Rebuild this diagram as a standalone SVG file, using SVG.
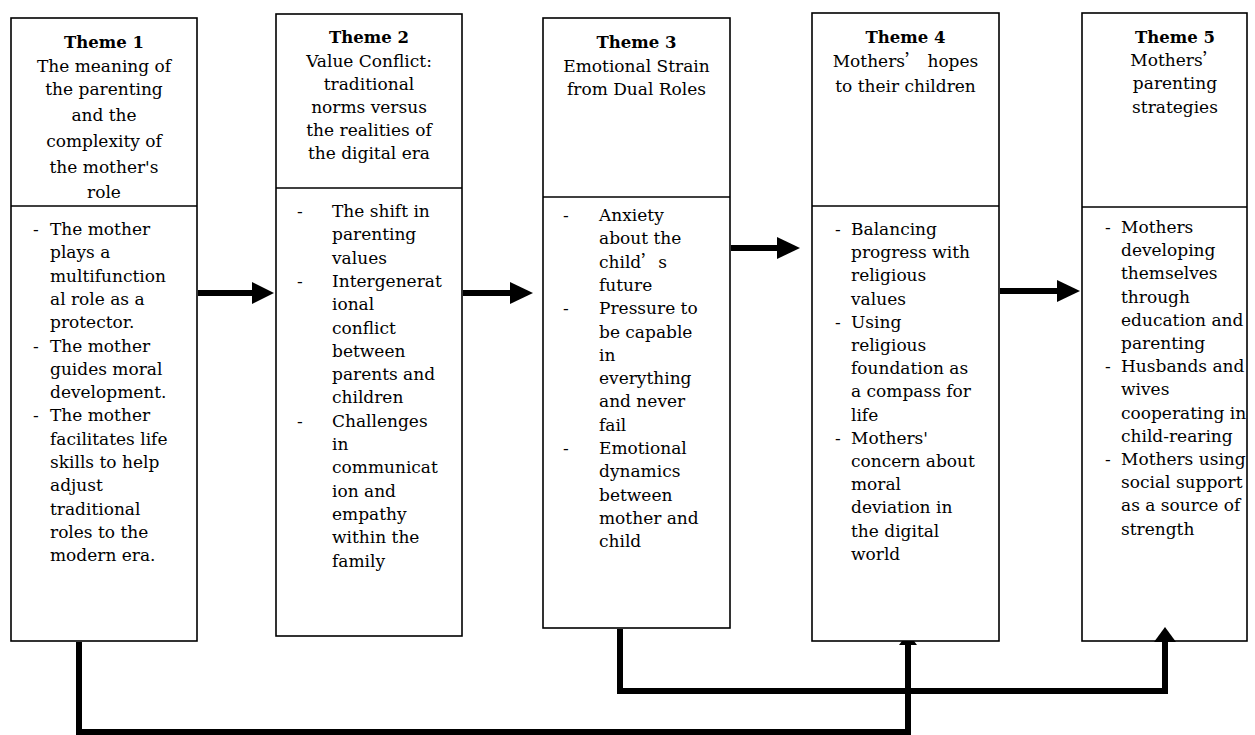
<svg xmlns="http://www.w3.org/2000/svg" width="1255" height="735" viewBox="0 0 1255 735">
<style>
.box{fill:#fff;stroke:#000;stroke-width:1.6}
.div{stroke:#000;stroke-width:1.6}
.t{font-family:"DejaVu Serif","Liberation Serif",serif;font-size:17px;fill:#000}
.h{text-anchor:middle}
.b{font-weight:bold;font-size:16.5px}
.cjk{font-family:"Noto Sans CJK SC",sans-serif}
.con{fill:none;stroke:#000;stroke-width:6}
.ah{fill:#000}
</style>
<rect width="1255" height="735" fill="#fff"/>

<g id="theme1">
<rect class="box" x="11" y="18" width="186" height="623"/>
<line class="div" x1="11" y1="206" x2="197" y2="206"/>
<text class="t h"><tspan class="b" x="104" y="48">Theme 1</tspan><tspan x="104" y="72">The meaning of</tspan><tspan x="104" y="95">the parenting</tspan><tspan x="104" y="121">and the</tspan><tspan x="104" y="147">complexity of</tspan><tspan x="104" y="173">the mother's</tspan><tspan x="104" y="198">role</tspan></text>
<text class="t"><tspan x="33" y="235">-</tspan><tspan x="33" y="351.5">-</tspan><tspan x="33" y="421.4">-</tspan></text>
<text class="t"><tspan x="50" y="235">The mother</tspan><tspan x="50" dy="23.3">plays a</tspan><tspan x="50" dy="23.3">multifunction</tspan><tspan x="50" dy="23.3">al role as a</tspan><tspan x="50" dy="23.3">protector.</tspan><tspan x="50" dy="23.3">The mother</tspan><tspan x="50" dy="23.3">guides moral</tspan><tspan x="50" dy="23.3">development.</tspan><tspan x="50" dy="23.3">The mother</tspan><tspan x="50" dy="23.3">facilitates life</tspan><tspan x="50" dy="23.3">skills to help</tspan><tspan x="50" dy="23.3">adjust</tspan><tspan x="50" dy="23.3">traditional</tspan><tspan x="50" dy="23.3">roles to the</tspan><tspan x="50" dy="23.3">modern era.</tspan></text>
</g>

<g id="theme2">
<rect class="box" x="276" y="14" width="186" height="622"/>
<line class="div" x1="276" y1="188" x2="462" y2="188"/>
<text class="t h"><tspan class="b" x="369" y="43">Theme 2</tspan><tspan x="369" y="67">Value Conflict:</tspan><tspan x="369" y="90">traditional</tspan><tspan x="369" y="113">norms versus</tspan><tspan x="369" y="136">the realities of</tspan><tspan x="369" y="159">the digital era</tspan></text>
<text class="t"><tspan x="297" y="217">-</tspan><tspan x="297" y="286.9">-</tspan><tspan x="297" y="426.7">-</tspan></text>
<text class="t"><tspan x="332" y="217">The shift in</tspan><tspan x="332" dy="23.3">parenting</tspan><tspan x="332" dy="23.3">values</tspan><tspan x="332" dy="23.3">Intergenerat</tspan><tspan x="332" dy="23.3">ional</tspan><tspan x="332" dy="23.3">conflict</tspan><tspan x="332" dy="23.3">between</tspan><tspan x="332" dy="23.3">parents and</tspan><tspan x="332" dy="23.3">children</tspan><tspan x="332" dy="23.3">Challenges</tspan><tspan x="332" dy="23.3">in</tspan><tspan x="332" dy="23.3">communicat</tspan><tspan x="332" dy="23.3">ion and</tspan><tspan x="332" dy="23.3">empathy</tspan><tspan x="332" dy="23.3">within the</tspan><tspan x="332" dy="23.3">family</tspan></text>
</g>

<g id="theme3">
<rect class="box" x="543" y="18" width="187" height="610"/>
<line class="div" x1="543" y1="197" x2="730" y2="197"/>
<text class="t h"><tspan class="b" x="636.5" y="48">Theme 3</tspan><tspan x="636.5" y="72">Emotional Strain</tspan><tspan x="636.5" y="95">from Dual Roles</tspan></text>
<text class="t"><tspan x="563" y="221">-</tspan><tspan x="563" y="314.2">-</tspan><tspan x="563" y="454">-</tspan></text>
<text class="t"><tspan x="599" y="221">Anxiety</tspan><tspan x="599" dy="23.3">about the</tspan><tspan x="599" dy="23.3">child<tspan class="cjk">’</tspan>s</tspan><tspan x="599" dy="23.3">future</tspan><tspan x="599" dy="23.3">Pressure to</tspan><tspan x="599" dy="23.3">be capable</tspan><tspan x="599" dy="23.3">in</tspan><tspan x="599" dy="23.3">everything</tspan><tspan x="599" dy="23.3">and never</tspan><tspan x="599" dy="23.3">fail</tspan><tspan x="599" dy="23.3">Emotional</tspan><tspan x="599" dy="23.3">dynamics</tspan><tspan x="599" dy="23.3">between</tspan><tspan x="599" dy="23.3">mother and</tspan><tspan x="599" dy="23.3">child</tspan></text>
</g>

<g id="theme4">
<rect class="box" x="812" y="13" width="187" height="628"/>
<line class="div" x1="812" y1="206" x2="999" y2="206"/>
<text class="t h"><tspan class="b" x="905.5" y="43">Theme 4</tspan><tspan x="905.5" y="67">Mothers<tspan class="cjk">’</tspan> hopes</tspan><tspan x="905.5" y="92">to their children</tspan></text>
<text class="t"><tspan x="835" y="235">-</tspan><tspan x="835" y="327.8">-</tspan><tspan x="835" y="443.8">-</tspan></text>
<text class="t"><tspan x="851" y="235">Balancing</tspan><tspan x="851" dy="23.2">progress with</tspan><tspan x="851" dy="23.2">religious</tspan><tspan x="851" dy="23.2">values</tspan><tspan x="851" dy="23.2">Using</tspan><tspan x="851" dy="23.2">religious</tspan><tspan x="851" dy="23.2">foundation as</tspan><tspan x="851" dy="23.2">a compass for</tspan><tspan x="851" dy="23.2">life</tspan><tspan x="851" dy="23.2">Mothers'</tspan><tspan x="851" dy="23.2">concern about</tspan><tspan x="851" dy="23.2">moral</tspan><tspan x="851" dy="23.2">deviation in</tspan><tspan x="851" dy="23.2">the digital</tspan><tspan x="851" dy="23.2">world</tspan></text>
</g>

<g id="theme5">
<rect class="box" x="1082" y="13" width="165" height="628"/>
<line class="div" x1="1082" y1="207" x2="1247" y2="207"/>
<text class="t h"><tspan class="b" x="1175" y="43">Theme 5</tspan><tspan x="1175" y="66">Mothers<tspan class="cjk">’</tspan></tspan><tspan x="1175" y="89">parenting</tspan><tspan x="1175" y="113">strategies</tspan></text>
<text class="t"><tspan x="1105" y="233">-</tspan><tspan x="1105" y="372.2">-</tspan><tspan x="1105" y="465">-</tspan></text>
<text class="t"><tspan x="1121" y="233">Mothers</tspan><tspan x="1121" dy="23.2">developing</tspan><tspan x="1121" dy="23.2">themselves</tspan><tspan x="1121" dy="23.2">through</tspan><tspan x="1121" dy="23.2">education and</tspan><tspan x="1121" dy="23.2">parenting</tspan><tspan x="1121" dy="23.2">Husbands and</tspan><tspan x="1121" dy="23.2">wives</tspan><tspan x="1121" dy="23.2">cooperating in</tspan><tspan x="1121" dy="23.2">child-rearing</tspan><tspan x="1121" dy="23.2">Mothers using</tspan><tspan x="1121" dy="23.2">social support</tspan><tspan x="1121" dy="23.2">as a source of</tspan><tspan x="1121" dy="23.2">strength</tspan></text>
</g>

<g id="connectors">
<line class="con" x1="198" y1="293" x2="254" y2="293"/>
<polygon class="ah" points="252,282 274,293 252,304"/>
<line class="con" x1="463" y1="293" x2="512" y2="293"/>
<polygon class="ah" points="510,282 533,293 510,304"/>
<line class="con" x1="731" y1="248" x2="779" y2="248"/>
<polygon class="ah" points="777,237 800,248 777,259"/>
<line class="con" x1="1000" y1="291" x2="1059" y2="291"/>
<polygon class="ah" points="1057,280 1080,291 1057,302"/>
<polyline class="con" points="79,642 79,732 908,732 908,644"/>
<polygon class="ah" points="899,645 917,645 914,641 902,641"/>
<polyline class="con" points="620,629 620,691 1165,691 1165,640"/>
<polygon class="ah" points="1154,642 1165,627 1176,642"/>
</g>
</svg>
